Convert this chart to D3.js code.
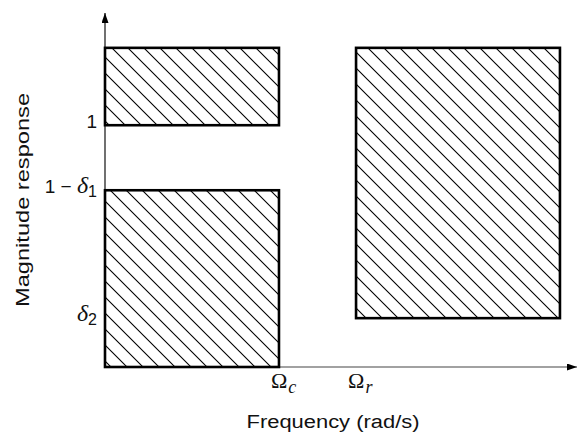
<!DOCTYPE html>
<html>
<head>
<meta charset="utf-8">
<script src="https://cdn.jsdelivr.net/npm/d3@7"></script>
<style>
  html, body { margin: 0; padding: 0; background: #fff; }
  svg { display: block; }
  .sans { font-family: "Liberation Sans", Arial, Helvetica, sans-serif; }
  .serif { font-family: "Liberation Serif", "Times New Roman", serif; }
</style>
</head>
<body>
<script>
// Tolerance bands of a low-pass filter specification (normalised units)
const bandNames = ["passband-upper", "passband-lower", "stopband"];
const bandFreqStart = [0, 0, 1.443];
const bandFreqEnd = [1, 1, 2.615];
const bandMagLow = [1, 0, 0.202];
const bandMagHigh = [1.32, 0.731, 1.32];

// Axis extents
const freqMax = 2.713;
const magMax = 1.46;

// Frequency tick marks: cut-off and rejection edges
const freqTickValues = [1, 1.443];
const freqTickSubs = ["c", "r"];

// Magnitude tick marks
const magTickValues = [1, 0.731, 0.202];
const magTickLabels = [
  { lead: "1", sym: "", sub: "" },
  { lead: "1 \u2212 ", sym: "\u03b4", sub: "1" },
  { lead: "", sym: "\u03b4", sub: "2" }
];

const W = 579, H = 432;
const svg = d3.select("body").append("svg").attr("width", W).attr("height", H);

const x = d3.scaleLinear().domain([0, freqMax]).range([105, 577]);
const y = d3.scaleLinear().domain([0, magMax]).range([367, 14]);

const defs = svg.append("defs");
// Diagonal hatching used to fill the forbidden regions
defs.append("pattern")
  .attr("id", "hatch")
  .attr("patternUnits", "userSpaceOnUse")
  .attr("width", 16).attr("height", 16)
  .append("path")
  .attr("d", "M-4,-4L20,20M-4,12L4,20M12,-4L20,4")
  .attr("stroke", "#000").attr("stroke-width", 1.1).attr("fill", "none");

defs.append("marker")
  .attr("id", "arrow")
  .attr("viewBox", "0 0 10 7")
  .attr("refX", 10).attr("refY", 3.5)
  .attr("markerWidth", 10).attr("markerHeight", 7)
  .attr("markerUnits", "userSpaceOnUse")
  .attr("orient", "auto")
  .append("path").attr("d", "M0,0L10,3.5L0,7Z").attr("fill", "#000");

// Axes drawn through D3's axis generators, ticks hidden; labels added below
const xAxis = svg.append("g")
  .attr("transform", `translate(0,${y(0)})`)
  .call(d3.axisBottom(x).tickValues([]).tickSize(0));
xAxis.select(".domain").attr("stroke", "#444").attr("stroke-width", 1.2).attr("marker-end", "url(#arrow)")
  .attr("d", `M${x(0)},0H${x(freqMax)}`);

const yAxis = svg.append("g")
  .attr("transform", `translate(${x(0)},0)`)
  .call(d3.axisLeft(y).tickValues([]).tickSize(0));
yAxis.select(".domain").attr("stroke", "#111").attr("stroke-width", 1.2).attr("marker-end", "url(#arrow)")
  .attr("d", `M0,${y(0)}V${y(magMax) - 1}`);

// Bands
const bands = bandNames.map((n, i) => ({
  name: n, f0: bandFreqStart[i], f1: bandFreqEnd[i], m0: bandMagLow[i], m1: bandMagHigh[i]
}));
svg.append("g").selectAll("rect")
  .data(bands)
  .join("rect")
  .attr("class", d => d.name)
  .attr("x", d => x(d.f0))
  .attr("y", d => y(d.m1))
  .attr("width", d => x(d.f1) - x(d.f0))
  .attr("height", d => y(d.m0) - y(d.m1))
  .attr("fill", "url(#hatch)")
  .attr("stroke", "#000")
  .attr("stroke-width", 2.6);

// Magnitude tick labels
const magLabels = svg.append("g").selectAll("text")
  .data(magTickValues.map((v, i) => ({ v, ...magTickLabels[i] })))
  .join("text")
  .attr("x", x(0) - 8)
  .attr("y", d => y(d.v) + 3)
  .attr("text-anchor", "end")
  .attr("fill", "#111")
  .attr("font-size", 19);
magLabels.append("tspan").attr("class", "sans").text(d => d.lead);
magLabels.filter(d => d.sym).append("tspan").attr("class", "serif")
  .attr("font-style", "italic").attr("font-size", 24).text(d => d.sym);
magLabels.filter(d => d.sub).append("tspan").attr("class", "sans")
  .attr("font-size", 16).attr("dy", 4).text(d => d.sub);

// Frequency tick labels
const freqLabels = svg.append("g").selectAll("text")
  .data(freqTickValues.map((v, i) => ({ v, sub: freqTickSubs[i] })))
  .join("text")
  .attr("class", "serif")
  .attr("x", d => x(d.v) - 8)
  .attr("y", y(0) + 21)
  .attr("fill", "#111")
  .attr("font-size", 22);
freqLabels.append("tspan").text("\u03a9");
freqLabels.append("tspan").attr("font-style", "italic").attr("font-size", 18)
  .attr("dx", 1).attr("dy", 5).text(d => d.sub);

// Axis titles
svg.append("text").attr("class", "sans")
  .attr("x", 333).attr("y", 428)
  .attr("text-anchor", "middle").attr("font-size", 18)
  .attr("fill", "#111")
  .attr("textLength", 173).attr("lengthAdjust", "spacingAndGlyphs")
  .text("Frequency (rad/s)");

svg.append("text").attr("class", "sans")
  .attr("transform", "translate(29,200) rotate(-90)")
  .attr("text-anchor", "middle").attr("font-size", 18)
  .attr("fill", "#111")
  .attr("textLength", 214).attr("lengthAdjust", "spacingAndGlyphs")
  .text("Magnitude response");
</script>
</body>
</html>
